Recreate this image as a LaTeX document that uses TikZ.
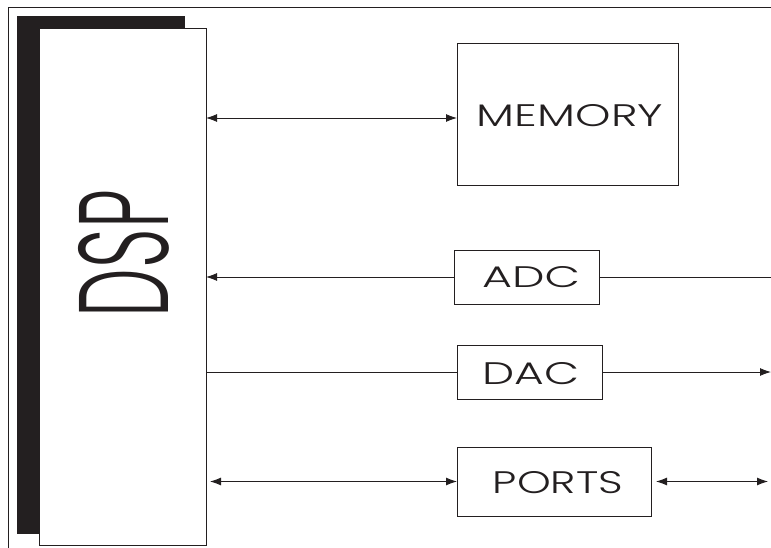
\documentclass[tikz,border=0pt]{standalone}
\usepackage{fontspec}
\setmainfont{Poppins Light}
\usetikzlibrary{arrows.meta}
\definecolor{ink}{HTML}{231F20}
\tikzset{
  blk/.style={draw=ink, line width=0.9pt, fill=white, inner sep=0pt, outer sep=0pt},
  wire/.style={draw=ink, line width=0.9pt},
  tip/.style={-{Latex[length=11pt,width=8pt]}},
  tips/.style={{Latex[length=11pt,width=8pt]}-{Latex[length=11pt,width=8pt]}},
}
\begin{document}
\begin{tikzpicture}[x=1pt,y=-1pt]
\useasboundingbox (0,0) rectangle (771,548);
% outer frame
\coordinate (fbl) at (8,548);
\coordinate (ftl) at (8,7);
\coordinate (ftr) at (771,7);
\draw[wire] (fbl) -- (ftl) -- (ftr);
\coordinate (R) at (771,0);
% DSP shadow and box
\node[fill=ink, draw=none, minimum width=168pt, minimum height=518pt, inner sep=0pt] (shadow) at (101,275) {};
\node[blk, minimum width=167pt, minimum height=517pt] (dsp) at (122.5,286.5) {};
\node[inner sep=0pt, text=ink] (dsptxt) at (124,253.5) {\rotatebox{90}{\resizebox{127pt}{90pt}{DSP}}};
% peripherals
\node[blk, minimum width=221pt, minimum height=142pt] (mem) at (567.5,114) {};
\node[inner sep=0pt, text=ink] (memtxt) at (570,116) {\resizebox{186pt}{22pt}{MEMORY}};
\node[blk, minimum width=145pt, minimum height=54pt] (adc) at (526.5,277) {};
\node[inner sep=0pt, text=ink] (adctxt) at (531,277.5) {\resizebox{98pt}{21pt}{ADC}};
\node[blk, minimum width=145pt, minimum height=54pt] (dac) at (529.5,372) {};
\node[inner sep=0pt, text=ink] (dactxt) at (531,374) {\resizebox{97pt}{22pt}{DAC}};
\node[blk, minimum width=194pt, minimum height=69pt] (ports) at (554,481.5) {};
\node[inner sep=0pt, text=ink] (portstxt) at (558,483) {\resizebox{130pt}{22pt}{PORTS}};
% connectors
\draw[wire, tips] (dsp.east |- 0,118) -- (mem.west |- 0,118);
\draw[wire, tip] (adc.west) -- (adc.west -| dsp.east);
\draw[wire] (adc.east) -- (adc.east -| R);
\draw[wire] (dac.west -| dsp.east) -- (dac.west);
\draw[wire, tip] (dac.east) -- (dac.east -| R);
\draw[wire, tips] ([xshift=4pt]ports.west -| dsp.east) -- (ports.west);
\draw[wire, tips] ([xshift=5pt]ports.east) -- ([xshift=-3pt]ports.east -| R);
\end{tikzpicture}
\end{document}
